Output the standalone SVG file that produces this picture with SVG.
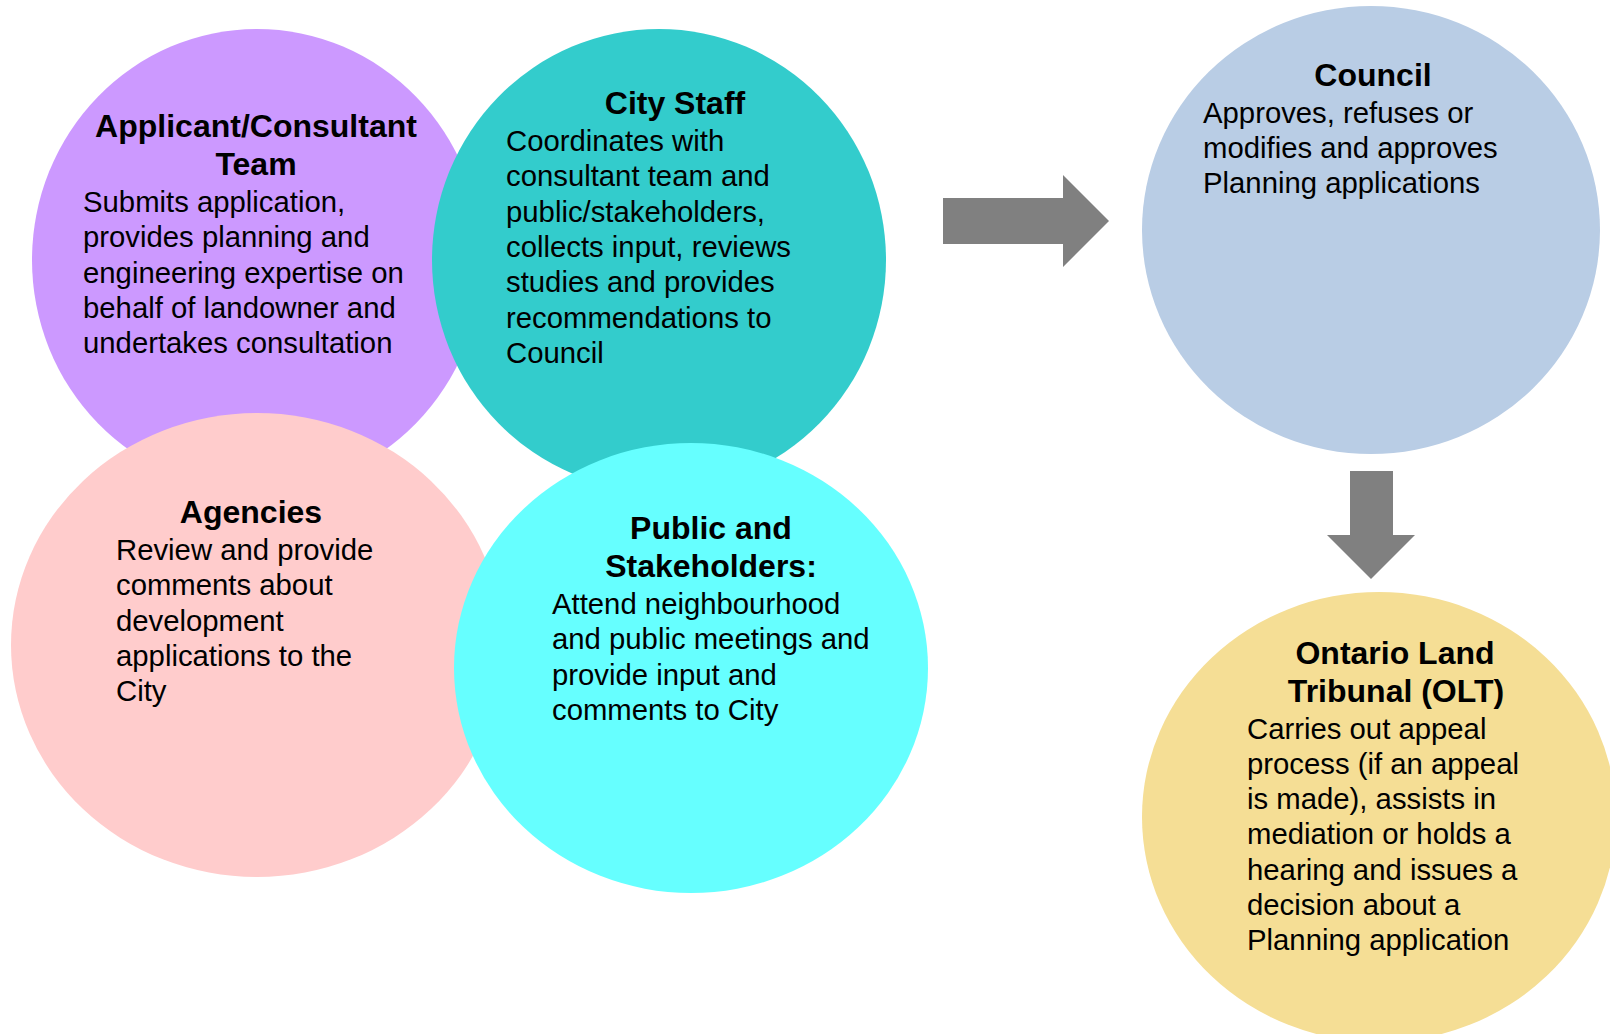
<svg xmlns="http://www.w3.org/2000/svg" width="1610" height="1034" viewBox="0 0 1610 1034">
<style>
text{font-family:"Liberation Sans",Arial,sans-serif;fill:#000}
.t{font-size:32px;font-weight:bold;text-anchor:middle}
.b{font-size:29.3px}
.arrow{fill:#808080}
</style>
<rect width="1610" height="1034" fill="#fff"/>
<g id="applicant">
<ellipse cx="257" cy="260" rx="225" ry="231" fill="#CC99FF"/>
<text class="t" x="256" y="137">Applicant/Consultant</text>
<text class="t" x="256" y="175">Team</text>
<text class="b" x="83" y="212">Submits application,</text>
<text class="b" x="83" y="247.3">provides planning and</text>
<text class="b" x="83" y="282.6">engineering expertise on</text>
<text class="b" x="83" y="317.9">behalf of landowner and</text>
<text class="b" x="83" y="353.2">undertakes consultation</text>
</g>
<g id="citystaff">
<ellipse cx="659" cy="260" rx="227" ry="231" fill="#33CCCC"/>
<text class="t" x="675" y="114">City Staff</text>
<text class="b" x="506" y="151">Coordinates with</text>
<text class="b" x="506" y="186.3">consultant team and</text>
<text class="b" x="506" y="221.6">public/stakeholders,</text>
<text class="b" x="506" y="256.9">collects input, reviews</text>
<text class="b" x="506" y="292.2">studies and provides</text>
<text class="b" x="506" y="327.5">recommendations to</text>
<text class="b" x="506" y="362.8">Council</text>
</g>
<g id="agencies">
<ellipse cx="257" cy="645" rx="246" ry="232" fill="#FFCCCC"/>
<text class="t" x="251" y="523">Agencies</text>
<text class="b" x="116" y="560">Review and provide</text>
<text class="b" x="116" y="595.3">comments about</text>
<text class="b" x="116" y="630.6">development</text>
<text class="b" x="116" y="665.9">applications to the</text>
<text class="b" x="116" y="701.2">City</text>
</g>
<g id="public">
<ellipse cx="691" cy="668" rx="237" ry="225" fill="#66FFFF"/>
<text class="t" x="711" y="539">Public and</text>
<text class="t" x="711" y="577">Stakeholders:</text>
<text class="b" x="552" y="614">Attend neighbourhood</text>
<text class="b" x="552" y="649.3">and public meetings and</text>
<text class="b" x="552" y="684.6">provide input and</text>
<text class="b" x="552" y="719.9">comments to City</text>
</g>
<g id="council">
<ellipse cx="1371" cy="230" rx="229" ry="224" fill="#B9CDE5"/>
<text class="t" x="1373" y="86">Council</text>
<text class="b" x="1203" y="122.5">Approves, refuses or</text>
<text class="b" x="1203" y="157.8">modifies and approves</text>
<text class="b" x="1203" y="193.1">Planning applications</text>
</g>
<g id="olt">
<ellipse cx="1379" cy="817" rx="237" ry="225" fill="#F5DE95"/>
<text class="t" x="1395" y="664">Ontario Land</text>
<text class="t" x="1396" y="702">Tribunal (OLT)</text>
<text class="b" x="1247" y="738.5">Carries out appeal</text>
<text class="b" x="1247" y="773.8">process (if an appeal</text>
<text class="b" x="1247" y="809.1">is made), assists in</text>
<text class="b" x="1247" y="844.4">mediation or holds a</text>
<text class="b" x="1247" y="879.7">hearing and issues a</text>
<text class="b" x="1247" y="915">decision about a</text>
<text class="b" x="1247" y="950.3">Planning application</text>
</g>
<g id="connectors">
<polygon class="arrow" points="943,198 1063,198 1063,175 1109,221 1063,267 1063,244 943,244"/>
<polygon class="arrow" points="1350,471 1393,471 1393,535 1415,535 1371,579 1327,535 1350,535"/>
</g>
</svg>
